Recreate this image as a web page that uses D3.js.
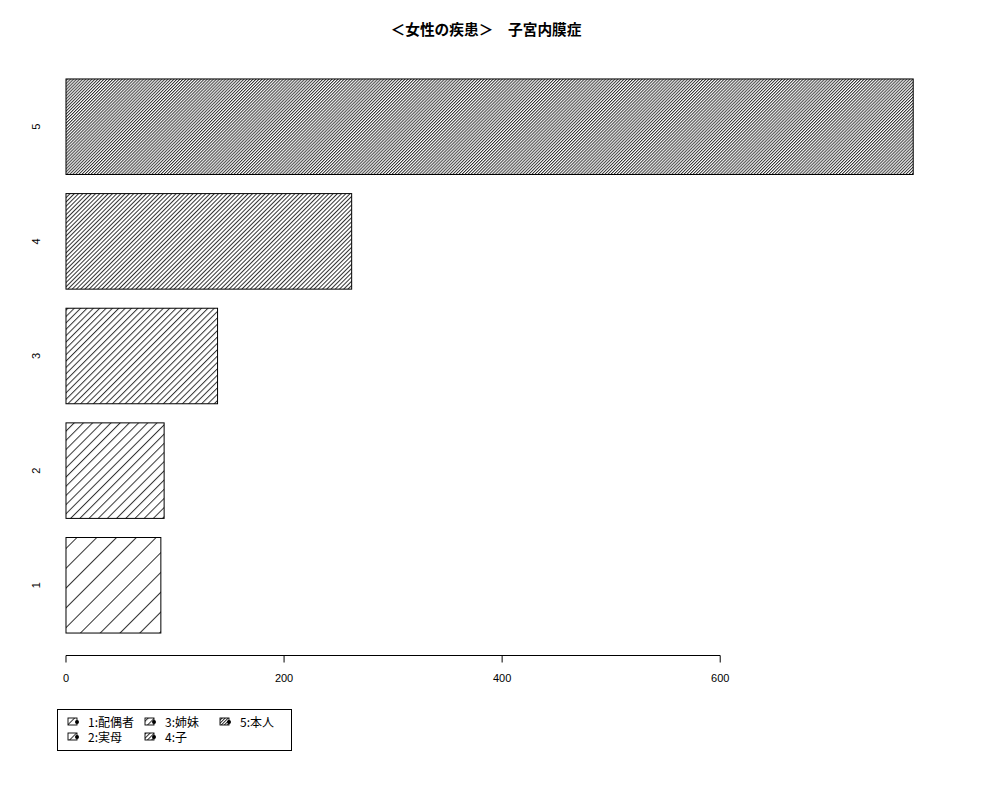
<!DOCTYPE html>
<html><head><meta charset="utf-8">
<script src="https://cdn.jsdelivr.net/npm/d3@7"></script>
<style>body{margin:0;background:#fff}</style>
</head><body>
<script>
const categories = ["1","2","3","4","5"];
const values = [87, 90, 139, 262, 777];
const legendLabels = ["1:配偶者","2:実母","3:姉妹","4:子","5:本人"];
const xTicks = [0, 200, 400, 600];
const titleText = "＜女性の疾患＞　子宮内膜症";
// style: hatch spacing (px, perpendicular) per bar
const hatchSpacing = [14, 6.5, 4.5, 3.0, 2.15];

const W = 1000, H = 800;
const svg = d3.select("body").append("svg").attr("width", W).attr("height", H)
  .style("font-family", "'Liberation Sans', Arial, sans-serif");
svg.append("rect").attr("width", W).attr("height", H).attr("fill", "#fff");

const maxV = d3.max(values);
const x = d3.scaleLinear().domain([-0.04*maxV, 1.04*maxV]).range([32.1, 947.1]);
const n = categories.length;
const yMax = 0.2 + 1.2*n - 0.2; // 6.0
const ext = 0.04*(yMax-0.2);
const y = d3.scaleLinear().domain([0.2-ext, yMax+ext]).range([655.2, 56.8]);

const defs = svg.append("defs");
hatchSpacing.forEach((d,i)=>{
  const p = defs.append("pattern").attr("id","h"+i).attr("patternUnits","userSpaceOnUse")
    .attr("width", 10).attr("height", d).attr("patternTransform","rotate(-45)");
  p.append("rect").attr("width",10).attr("height",d).attr("fill","#fff");
  p.append("line").attr("x1",0).attr("x2",10).attr("y1",0.5).attr("y2",0.5)
    .attr("stroke","#333").attr("stroke-width",1);
});

const g = svg.append("g");
categories.forEach((c,i)=>{
  const y0 = 0.2 + 1.2*i, y1 = y0 + 1;
  g.append("rect").attr("x", x(0)).attr("y", y(y1))
    .attr("width", x(values[i]) - x(0)).attr("height", y(y0) - y(y1))
    .attr("fill", `url(#h${i})`).attr("stroke", "#000").attr("stroke-width", 1);
  g.append("text").attr("transform", `translate(40,${y((y0+y1)/2)}) rotate(-90)`)
    .attr("text-anchor","middle").attr("font-size", 11).attr("fill","#000").text(c);
});

// x axis
const axY = 655.5;
svg.append("line").attr("x1", x(xTicks[0])).attr("x2", x(xTicks[xTicks.length-1]))
  .attr("y1", axY).attr("y2", axY).attr("stroke","#000");
xTicks.forEach(t=>{
  svg.append("line").attr("x1", x(t)).attr("x2", x(t)).attr("y1", axY).attr("y2", axY+7).attr("stroke","#000");
  svg.append("text").attr("x", x(t)).attr("y", 682).attr("text-anchor","middle")
    .attr("font-size", 11).attr("fill","#000").text(t);
});

// title
svg.append("text").attr("x", 486).attr("y", 35).attr("text-anchor","middle")
  .attr("font-family","'Noto Sans CJK JP', sans-serif").attr("font-weight","bold")
  .attr("font-size", 14.7).text(titleText);

// legend
svg.append("rect").attr("x", 57.5).attr("y", 709.5).attr("width", 234).attr("height", 41)
  .attr("fill","#fff").attr("stroke","#000");
const colX = [68, 145, 220];
const rowY = [722, 737];
legendLabels.forEach((l,i)=>{
  const col = Math.floor(i/2), row = i%2;
  const bx = colX[col], by = rowY[row];
  svg.append("rect").attr("x", bx).attr("y", by-4).attr("width", 9).attr("height", 7)
    .attr("fill", `url(#h${i})`).attr("stroke","#000").attr("stroke-width",0.9);
  svg.append("circle").attr("cx", bx+9).attr("cy", by).attr("r", 2).attr("fill","#000");
  svg.append("text").attr("x", bx+20).attr("y", by+4.5)
    .attr("font-family","'Noto Sans CJK JP', 'Liberation Sans', sans-serif")
    .attr("font-size", 12).text(l);
});
</script>
</body></html>
